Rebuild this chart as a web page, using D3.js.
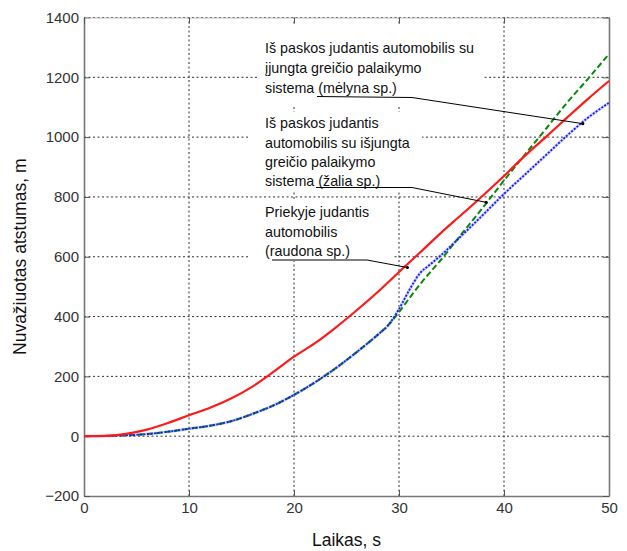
<!DOCTYPE html>
<html>
<head>
<meta charset="utf-8">
<script src="https://cdn.jsdelivr.net/npm/d3@7"></script>
<style>
  html, body { margin: 0; padding: 0; background: #fff; }
  svg { display: block; font-family: "Liberation Sans", Arial, sans-serif; }
</style>
</head>
<body>
<svg id="chart" width="627" height="551"></svg>
<script>
// ---- data ----
const redTime  = [0, 2, 4, 6, 8, 10, 12, 14, 16, 18, 20, 22, 24, 26, 28, 30, 32, 34, 36, 38, 40, 42, 44, 46, 48, 50];
const redDist  = [0, 1, 8, 22, 44, 70, 95, 126, 165, 214, 266, 311, 364, 422, 483, 549, 614, 680, 742, 805, 870, 938, 1001, 1065, 1128, 1188];

const greenTime = [0, 2, 4, 6, 8, 10, 12, 14, 16, 18, 20, 22, 24, 26, 28, 29, 30, 31, 32, 34, 36, 38, 40, 42, 44, 46, 48, 50];
const greenDist = [0, 1, 3, 7, 15, 25, 35, 50, 74, 102, 138, 180, 228, 282, 340, 372, 415, 462, 508, 590, 678, 765, 855, 942, 1028, 1115, 1195, 1278];

const blueTime = [0, 2, 4, 6, 8, 10, 12, 14, 16, 18, 20, 22, 24, 26, 28, 29, 30, 31, 32, 33, 34, 36, 38, 40, 42, 44, 46, 48, 50];
const blueDist = [0, 1, 3, 7, 15, 25, 35, 50, 74, 102, 138, 180, 228, 282, 340, 372, 425, 490, 545, 575, 605, 672, 740, 810, 875, 940, 1005, 1065, 1115];

const xTicks = [0, 10, 20, 30, 40, 50];
const yTicks = [-200, 0, 200, 400, 600, 800, 1000, 1200, 1400];
const xLabel = "Laikas, s";
const yLabel = "Nuvažiuotas atstumas, m";

const notes = [
  { lines: ["Iš paskos judantis automobilis su", "įjungta greičio palaikymo", "sistema (mėlyna sp.)"], target: [47.5, 1045] },
  { lines: ["Iš paskos judantis", "automobilis su išjungta", "greičio palaikymo", "sistema (žalia sp.)"], target: [38.3, 782] },
  { lines: ["Priekyje judantis", "automobilis", "(raudona sp.)"], target: [30.8, 564] }
];

// ---- layout ----
const svg = d3.select("#chart");
const X0 = 84, X1 = 609, Y0 = 496, Y1 = 17.5;
const x = d3.scaleLinear().domain([0, 50]).range([X0, X1]);
const y = d3.scaleLinear().domain([-200, 1400]).range([Y0, Y1]);

// grid
const grid = svg.append("g").attr("stroke", "#333").attr("stroke-width", 1).attr("stroke-dasharray", "2,2.5");
grid.selectAll("line.v").data(xTicks.slice(1, -1)).join("line")
  .attr("x1", d => x(d)).attr("x2", d => x(d)).attr("y1", Y0).attr("y2", Y1);
grid.selectAll("line.h").data(yTicks.slice(1)).join("line")
  .attr("x1", X0).attr("x2", X1).attr("y1", d => y(d)).attr("y2", d => y(d));

// axes
const fmt = d3.format("d");
const xAxis = svg.append("g").attr("transform", `translate(0,${Y0})`)
  .call(d3.axisBottom(x).tickValues(xTicks).tickFormat(fmt).tickSizeInner(-6).tickSizeOuter(0).tickPadding(6));
const yAxis = svg.append("g").attr("transform", `translate(${X0},0)`)
  .call(d3.axisLeft(y).tickValues(yTicks).tickFormat(fmt).tickSizeInner(-6).tickSizeOuter(0).tickPadding(5));
const xAxisTop = svg.append("g").attr("transform", `translate(0,${Y1})`)
  .call(d3.axisTop(x).tickValues(xTicks).tickFormat("").tickSizeInner(-6).tickSizeOuter(0));
const yAxisRight = svg.append("g").attr("transform", `translate(${X1},0)`)
  .call(d3.axisRight(y).tickValues(yTicks).tickFormat("").tickSizeInner(-6).tickSizeOuter(0));
[xAxis, yAxis, xAxisTop, yAxisRight].forEach(g => {
  g.select(".domain").attr("stroke", "#777").attr("stroke-width", 1.6);
  g.selectAll(".tick line").attr("stroke", "#555");
  g.selectAll(".tick text").attr("font-size", 15).attr("fill", "#333")
    .attr("font-family", "'Liberation Sans', Arial, sans-serif");
});
xAxisTop.select(".domain").attr("stroke", "#bbb").attr("stroke-width", 1);

// white text boxes (text annotation backgrounds)
const boxes = [
  { x: 258, y: 25, w: 224, h: 81 },
  { x: 250, y: 112, w: 172, h: 78 },
  { x: 250, y: 200, w: 144, h: 61 }
];
svg.append("g").selectAll("rect").data(boxes).join("rect")
  .attr("x", d => d.x).attr("y", d => d.y).attr("width", d => d.w).attr("height", d => d.h)
  .attr("fill", "#fff");

// series
const line = d3.line().x(d => x(d[0])).y(d => y(d[1])).curve(d3.curveMonotoneX);
const redPts = d3.zip(redTime, redDist);
const greenPts = d3.zip(greenTime, greenDist);
const bluePts = d3.zip(blueTime, blueDist);

svg.append("path").datum(bluePts).attr("d", line).attr("fill", "none")
  .attr("stroke", "#9fa8ff").attr("stroke-width", 3).attr("opacity", 0.5);
svg.append("path").datum(greenPts).attr("d", line).attr("fill", "none")
  .attr("stroke", "#0a8a0a").attr("stroke-width", 2).attr("stroke-dasharray", "6,3");
svg.append("path").datum(bluePts).attr("d", line).attr("fill", "none")
  .attr("stroke", "#1a1aff").attr("stroke-width", 1.8).attr("stroke-dasharray", "2,1.5");
svg.append("path").datum(redPts).attr("d", line).attr("fill", "none")
  .attr("stroke", "#ff1a1a").attr("stroke-width", 2.2);

// annotations
const textLeft = 265;
const baselines = [[53, 73, 93], [128, 148, 167, 186], [217, 237, 256]];
const leaderStart = [[317, 96.5, 412, 97.5], [316, 187.5, 412, 187.5], [272, 260, 367, 260]];
const ann = svg.append("g");
notes.forEach((n, i) => {
  n.lines.forEach((t, j) => {
    ann.append("text").attr("x", textLeft).attr("y", baselines[i][j])
      .attr("font-size", 14.3).attr("fill", "#111").text(t);
  });
  const [sx, sy, kx, ky] = leaderStart[i];
  const tx = x(n.target[0]), ty = y(n.target[1]);
  ann.append("path").attr("d", `M${sx},${sy}L${kx},${ky}L${tx},${ty}`)
    .attr("fill", "none").attr("stroke", "#000").attr("stroke-width", 1);
  ann.append("circle").attr("cx", tx).attr("cy", ty).attr("r", 1.6).attr("fill", "#000");
});

// axis labels
svg.append("text").attr("x", (X0 + X1) / 2).attr("y", 546).attr("text-anchor", "middle")
  .attr("font-size", 17.5).attr("fill", "#111").text(xLabel);
svg.append("text").attr("transform", `translate(26,${(Y0 + Y1) / 2}) rotate(-90)`)
  .attr("text-anchor", "middle").attr("font-size", 17.5).attr("fill", "#111").text(yLabel);
</script>
</body>
</html>
